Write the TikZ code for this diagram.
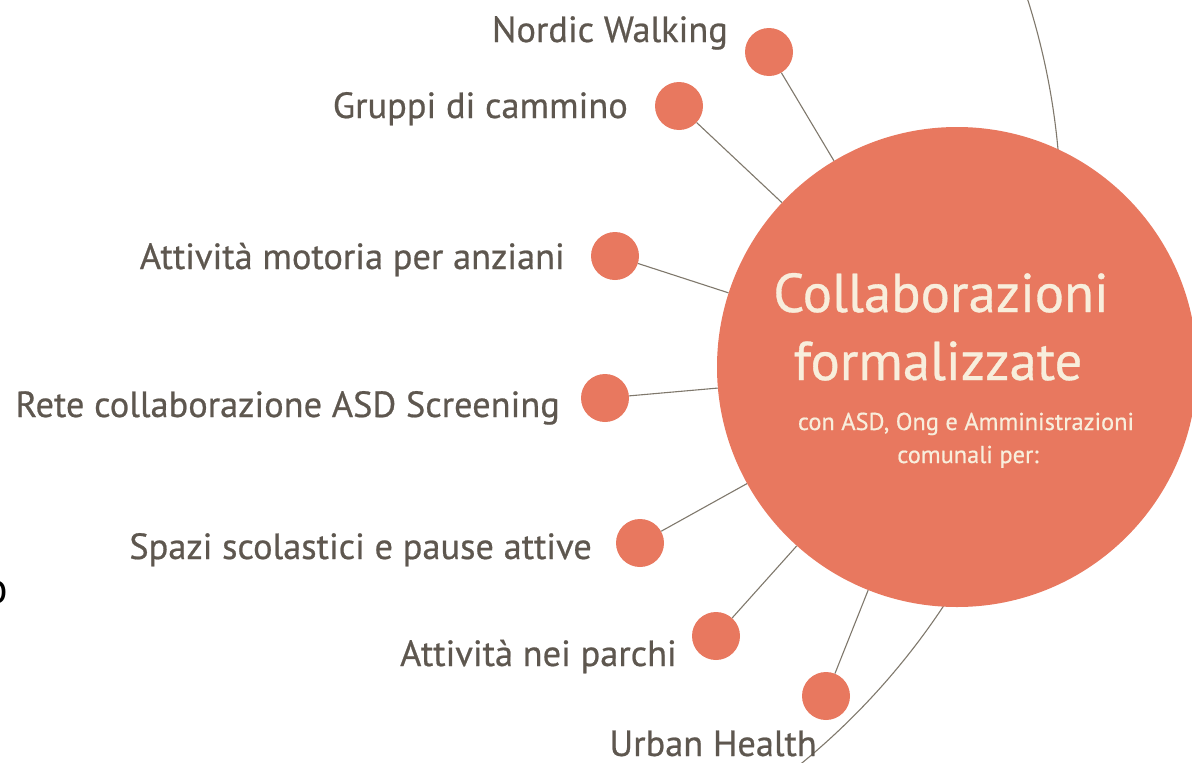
\documentclass[tikz,border=0pt]{standalone}
\usepackage{fontspec}
\setmainfont{PT Sans}
\newfontfamily\lblfont[FakeBold=0.6]{PT Sans}
\usepackage{tikz}
\definecolor{salmon}{HTML}{E8785F}
\definecolor{cream}{HTML}{F8EEDC}
\definecolor{taupe}{HTML}{5E574F}
\definecolor{wire}{HTML}{7F786C}

\begin{document}
\begin{tikzpicture}[x=1pt,y=-1pt,
  dot/.style={circle,fill=salmon,minimum size=48pt,inner sep=0pt},
  hubnode/.style={circle,fill=salmon,minimum size=480pt,inner sep=0pt},
  lbl/.style={anchor=base east,inner sep=0pt,text=taupe,font=\lblfont\fontsize{36.4}{40}\selectfont},
  title/.style={anchor=base,inner sep=0pt,text=cream,font=\lblfont\fontsize{54.7}{60}\selectfont},
  subtitle/.style={anchor=base,inner sep=0pt,text=cream,font=\lblfont\fontsize{24.4}{28}\selectfont},
  link/.style={draw=wire,line width=1.1pt}]
  \useasboundingbox (0,0) rectangle (1192,763);
  % outer ring, mostly hidden behind the hub
  \begin{scope}
    \clip (0,0) rectangle (1192,763);
    \coordinate (ringc) at (352,215);
    \draw[link] (ringc) circle (709pt);
  \end{scope}
  % hub
  \node[hubnode] (hub) at (957,367) {};
  \node[title] (tline1) at (941,312) {Collaborazioni};
  \node[title] (tline2) at (938,380) {formalizzate};
  \node[subtitle] (sline1) at (966,430) {con ASD, Ong e Amministrazioni};
  \node[subtitle] (sline2) at (968,463) {comunali per:};
  % activity dots
  \node[dot] (nordic) at (769,52) {};
  \node[dot] (gruppi) at (679,106) {};
  \node[dot] (motoria) at (615,256) {};
  \node[dot] (rete) at (605,398) {};
  \node[dot] (spazi) at (640,543) {};
  \node[dot] (parchi) at (716,636) {};
  \node[dot] (urban) at (826,696) {};
  % labels
  \node[lbl] (lnordic) at (728,42) {Nordic Walking};
  \node[lbl] (lgruppi) at (628,118) {Gruppi di cammino};
  \node[lbl] (lmotoria) at (565,269) {Attività motoria per anziani};
  \node[lbl] (lrete) at (560,417) {Rete collaborazione ASD Screening};
  \node[lbl] (lspazi) at (592,559) {Spazi scolastici e pause attive};
  \node[lbl] (lparchi) at (677,666) {Attività nei parchi};
  \node[lbl] (lurban) at (817,756) {Urban Health};
  % spokes
  \foreach \d in {nordic,gruppi,motoria,rete,spazi,parchi,urban}
    \draw[link] (\d) -- (hub);
  % cut-off letter at the left edge
  \node[anchor=base east,inner sep=0pt,font=\fontsize{44}{50}\selectfont] (cut) at (8,603) {o};
\end{tikzpicture}
\end{document}
